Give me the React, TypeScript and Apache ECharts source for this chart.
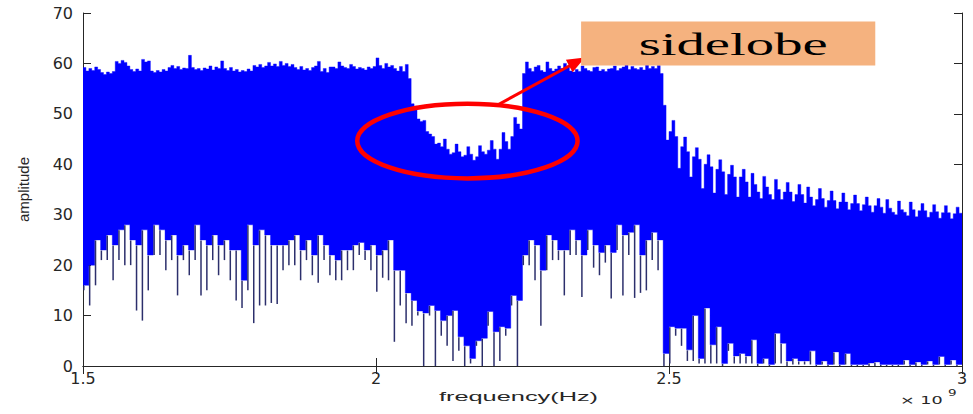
import { useEffect, useRef } from "react";
import * as echarts from "echarts";

// Spectrum bins (frequency axis in units of 1e9 Hz)
const F_START = 1.5;
const TOP_STEP = 0.005; // resolution of the peak envelope
const LOW_STEP = 0.01; // resolution of the dense floor / trough spikes

// Peak envelope per bin, split by band
const PASSBAND_A_TOP = [
  59.2, 58.5, 59.0, 58.6, 59.3, 58.8,
  58.2, 57.8, 58.3, 58.0, 58.4,
  60.4, 60.0, 60.6, 60.2, 59.5,
  58.8, 58.4, 58.9, 58.5,
  60.8, 60.3, 60.5,
  58.5, 58.2, 58.6, 58.3, 58.8, 58.5,
  59.2, 59.6, 59.0, 59.4, 58.8, 59.1, 59.0,
  61.6,
  59.2, 58.8, 59.0, 58.6, 59.1,
  58.9, 59.5, 58.7, 59.3, 59.0,
  60.5,
  59.0, 58.6, 59.2,
  58.5, 58.8, 58.3, 58.6, 58.4, 58.9, 58.5,
  59.6, 59.3, 59.8, 59.2, 59.5,
  60.2, 59.5, 59.9, 59.4, 60.4, 59.6, 60.0, 59.4, 59.8,
  59.2, 58.8, 59.4, 58.7, 59.0, 58.6, 59.2,
  59.5, 60.4, 58.4, 59.0, 58.2, 59.3,
  59.3, 59.0, 60.3, 59.5, 59.2,
  59.0, 59.8, 59.4, 58.9, 59.2,
  59.0, 58.7, 59.3, 59.0, 59.4,
  61.1,
  59.6, 59.0, 60.0, 59.3, 59.6,
  59.0, 58.5, 59.4, 58.4, 59.8, 57.0,
];
const NOTCH_TOP = [
  52, 51.5, 49, 48.5, 48.7, 46.5, 46, 45.5, 44, 44.2,
  43.5, 45, 43, 42, 42.3, 44, 42.5, 41.5, 41.8, 43.5,
  42, 40.8, 41.5, 43.7, 42.5, 42, 42.8, 44.7, 43, 41,
  43, 46.3, 44.5, 43, 45.5, 49.3, 48, 47,
];
const PASSBAND_B_TOP = [
  58.0, 60.3, 59.0, 58.4, 59.3, 59.6, 58.6, 58.3, 60.3, 59.0,
  58.5, 58.9, 59.5, 59.0, 60.0, 59.4, 58.5, 58.3, 58.8, 58.4,
  59.5, 59.0, 58.6, 58.4, 59.2, 59.3, 58.5, 58.8, 58.4, 58.9,
  59.0, 59.5, 58.6, 59.0, 59.3, 59.8, 58.8, 59.4, 59.0, 58.8,
  59.2, 58.7, 60.2, 59.0, 59.4, 59.0, 59.6, 58.0,
];
const ROLLOFF_TOP = [
  51.7, 44.8, 46.5, 48.7, 45.5, 39.2, 43.5, 45.4, 42.5, 37.5,
  41.5, 43.3, 41, 35.2, 40, 41.9, 39.5, 34.3, 39, 40.9,
  38.5, 34, 38, 39.8, 37.5, 33.5, 37.5, 39.0, 36.5, 33.5,
  38.2, 36, 34.5, 33.2, 37.6, 35.5, 34, 33, 37.0, 35,
  33, 34.5, 36.4, 34.5, 32.6, 34, 36.0, 34, 32.3, 35.5,
  33.5, 31.8, 33, 35.2, 33.2, 31.5, 32.8, 34.7, 32.8, 31.2,
  32.5, 34.3, 32.5, 31, 32.2, 33.9, 32.2, 30.8, 32, 33.5,
  31.8, 30.5, 31.8, 33.2, 31.5, 30.3, 33.0, 31.3, 30.5, 30,
  32.7, 31, 30.5, 29.8, 32.5, 31, 29.6, 30.8, 32.2, 30.8,
  29.5, 30.5, 32.0, 30.6, 29.3, 30.4, 31.8, 30.4, 29.2, 30.2,
  31.5, 30.3,
];
const PEAK_ENVELOPE = [...PASSBAND_A_TOP, ...NOTCH_TOP, ...PASSBAND_B_TOP, ...ROLLOFF_TOP];

// Lower edge of the dense trace, per 0.01 bin
const DENSE_FLOOR = [
  16, 20, 25, 23, 26, 24, 27, 28, 25, 24,
  27, 22, 28, 27, 25, 26, 22, 24, 23, 28,
  25, 24, 26, 24, 25, 23, 23, 17, 28, 24,
  27, 26, 24, 24, 24, 25, 26, 23, 25, 22,
  26, 24, 22, 21, 23, 23, 24, 24.5, 23, 24,
  22, 23, 25, 19, 19, 14.5, 13, 10.9, 10.5, 12,
  11, 9, 10, 11, 5.8, 4, 1.5, 5, 5.5, 10.8,
  6.8, 7.8, 7.5, 14, 13, 22, 25, 24, 19, 26,
  25, 23, 23, 27, 25, 22, 27, 24, 22.5, 24,
  22.5, 28, 26, 26.5, 28, 22, 25, 26.5, 25, 2.5,
  7.8, 7.5, 7.5, 3.2, 10, 1.5, 11.5, 4.2, 7.8, 0.5,
  4.5, 2, 2.5, 2, 5.2, 0.5, 1.5, 0.3, 6.5, 4.5,
  1, 1.5, 1, 1, 3, 0.3, 1, 0.3, 2.8, 0.3,
  2.5, 0.3, 0.3, 0.3, 0.6, 0.8, 0.3, 0.3, 0.3, 0.3,
  1.2, 0.3, 0.8, 0.3, 1, 0.3, 1.9, 0.3, 1.2, 0.3,
];
// Deepest trough reached inside each 0.01 bin
const TROUGH_LOW = [
  15, 12, 16, 21, 21, 17, 21, 20, 20, 11,
  9, 15, 22, 22, 19, 21, 14, 21, 18, 21,
  14, 15, 21, 18, 21, 17, 13, 11.5, 15, 8.5,
  12, 12, 12.5, 12.3, 19, 20, 20, 17, 21, 18,
  16.5, 21, 18, 17, 17, 19, 19, 22, 21, 19,
  14.7, 17.5, 17, 4.8, 12, 8.5, 8, 10, 0, 10,
  0, 6, 4, 1, 3, 0, 0.5, 4, 0, 8,
  0, 1, 6, 12, 0, 20, 20, 17, 8, 19,
  21, 21, 14, 22, 22, 13.7, 23, 19.5, 18, 20.5,
  13.4, 23, 14, 22, 13.5, 14.5, 15, 21, 19, 0,
  0.5, 6, 4, 1, 1, 0.5, 0.5, 0.5, 0.5, 0,
  3, 0.5, 0.5, 0.5, 0.5, 0, 0.5, 0, 0.5, 0.5,
  0, 0.3, 0.3, 0.3, 0.3, 0, 0.3, 0, 0.3, 0,
  0.3, 0, 0, 0, 0, 0, 0, 0, 0, 0,
  0.3, 0, 0, 0, 0.3, 0, 0.3, 0, 0.3, 0,
];

const X_TICKS = [1.5, 2, 2.5, 3];
const Y_TICKS = [0, 10, 20, 30, 40, 50, 60, 70];

// Annotation anchors in data units
const HIGHLIGHT = { f: 2.156, a: 44.6, rf: 0.188, ra: 7.4 };
const ARROW_FROM = [2.2065, 51.7];
const ARROW_TO = [2.3567, 61.2];
const LABEL_BOX = { f0: 2.35, a0: 68.3, f1: 2.852, a1: 59.6 };
const LABEL_TEXT = "sidelobe";

const BLUE = "#0000ff";
const NAVY = "#2c2f6c";
const INK = "#262626";
const RED = "#ff0000";

export default function App() {
  const ref = useRef<HTMLDivElement>(null);

  useEffect(() => {
    if (!ref.current) return;
    const chart = echarts.init(ref.current, undefined, { renderer: "svg" });

    const envelopeData = PEAK_ENVELOPE.map((top, i) => [F_START + i * TOP_STEP, top]);
    const floorData = DENSE_FLOOR.map((floor, j) => [F_START + j * LOW_STEP, floor]);
    const troughData = TROUGH_LOW.map((low, j) => [F_START + j * LOW_STEP, low, DENSE_FLOOR[j]]);

    const axisLine = { show: true, lineStyle: { color: INK, width: 1 } };
    const tick = { show: true, inside: true, length: 8, lineStyle: { color: INK } };
    const labelFont = { fontFamily: "DejaVu Sans", fontSize: 16, color: INK };

    chart.setOption({
      animation: false,
      backgroundColor: "#ffffff",
      grid: { left: 83, right: 11, top: 13, bottom: 48, containLabel: false },
      xAxis: [
        {
          type: "value",
          min: 1.5,
          max: 3,
          interval: 0.5,
          axisLine,
          axisTick: { ...tick, customValues: X_TICKS },
          axisLabel: {
            ...labelFont,
            margin: 4,
            customValues: X_TICKS,
            formatter: (v: number) => String(v),
          },
          splitLine: { show: false },
        },
        {
          type: "value",
          position: "top",
          min: 1.5,
          max: 3,
          interval: 0.5,
          axisLine,
          axisTick: { ...tick, customValues: X_TICKS },
          axisLabel: { show: false },
          splitLine: { show: false },
        },
      ],
      yAxis: [
        {
          type: "value",
          min: 0,
          max: 70,
          interval: 10,
          name: "amplitude",
          nameLocation: "middle",
          nameRotate: 90,
          nameGap: 52,
          nameTextStyle: { fontFamily: "Liberation Sans", fontSize: 15, color: INK },
          axisLine,
          axisTick: { ...tick, customValues: Y_TICKS },
          axisLabel: { ...labelFont, margin: 10, customValues: Y_TICKS },
          splitLine: { show: false },
        },
        {
          type: "value",
          position: "right",
          min: 0,
          max: 70,
          interval: 10,
          axisLine,
          axisTick: { ...tick, customValues: Y_TICKS },
          axisLabel: { show: false },
          splitLine: { show: false },
        },
      ],
      series: [
        {
          // The dense trace is filled as one stepped band: peak envelope on top,
          // dense floor underneath.
          type: "custom",
          name: "dense trace",
          clip: true,
          silent: true,
          encode: { x: 0, y: 1 },
          data: envelopeData,
          renderItem: (params: any, api: any) => {
            if (params.dataIndex !== 0) return null;
            const pts: number[][] = [];
            envelopeData.forEach(([f, top]) => {
              pts.push(api.coord([f, top]), api.coord([f + TOP_STEP, top]));
            });
            for (let j = floorData.length - 1; j >= 0; j--) {
              const [f, floor] = floorData[j];
              pts.push(api.coord([f + LOW_STEP, floor]), api.coord([f, floor]));
            }
            return {
              type: "polygon",
              shape: { points: pts },
              style: { fill: BLUE, stroke: BLUE, lineWidth: 0.4 },
            };
          },
        },
        {
          type: "custom",
          name: "troughs",
          clip: true,
          silent: true,
          encode: { x: 0, y: 1 },
          data: troughData,
          renderItem: (_p: any, api: any) => {
            const f = api.value(0);
            const low = api.value(1);
            const floor = api.value(2);
            if (low >= floor) return null;
            const a = api.coord([f, low]);
            const b = api.coord([f, floor]);
            return {
              type: "line",
              shape: { x1: a[0] + 0.8, y1: a[1], x2: b[0] + 0.8, y2: b[1] + 0.5 },
              style: { stroke: NAVY, lineWidth: 1.5 },
            };
          },
        },
      ],
    });

    const px = (f: number, a: number) =>
      chart.convertToPixel({ xAxisIndex: 0, yAxisIndex: 0 }, [f, a]) as number[];

    const c = px(HIGHLIGHT.f, HIGHLIGHT.a);
    const rx = px(HIGHLIGHT.f + HIGHLIGHT.rf, HIGHLIGHT.a)[0] - c[0];
    const ry = c[1] - px(HIGHLIGHT.f, HIGHLIGHT.a + HIGHLIGHT.ra)[1];

    const s = px(ARROW_FROM[0], ARROW_FROM[1]);
    const t = px(ARROW_TO[0], ARROW_TO[1]);
    const dx = t[0] - s[0];
    const dy = t[1] - s[1];
    const len = Math.hypot(dx, dy);
    const ux = dx / len;
    const uy = dy / len;
    const headLen = 18;
    const headHalf = 7;
    const bx = t[0] - ux * headLen;
    const by = t[1] - uy * headLen;

    const b0 = px(LABEL_BOX.f0, LABEL_BOX.a0);
    const b1 = px(LABEL_BOX.f1, LABEL_BOX.a1);

    const plotLeft = px(1.5, 0);
    const plotRight = px(3, 0);

    chart.setOption({
      graphic: [
        {
          type: "ellipse",
          z: 100,
          silent: true,
          shape: { cx: c[0], cy: c[1], rx, ry },
          style: { fill: "none", stroke: RED, lineWidth: 4.5 },
        },
        {
          type: "line",
          z: 100,
          silent: true,
          shape: { x1: s[0], y1: s[1], x2: bx + ux * 2, y2: by + uy * 2 },
          style: { stroke: RED, lineWidth: 3 },
        },
        {
          type: "polygon",
          z: 100,
          silent: true,
          shape: {
            points: [
              [t[0], t[1]],
              [bx - uy * headHalf, by + ux * headHalf],
              [bx + uy * headHalf, by - ux * headHalf],
            ],
          },
          style: { fill: RED },
        },
        {
          type: "rect",
          z: 100,
          silent: true,
          shape: { x: b0[0], y: b0[1], width: b1[0] - b0[0], height: b1[1] - b0[1] },
          style: { fill: "#f5b27f" },
        },
        {
          type: "text",
          z: 101,
          silent: true,
          x: (b0[0] + b1[0]) / 2 + 5,
          y: (b0[1] + b1[1]) / 2 + 1,
          scaleX: 1.83,
          style: {
            text: LABEL_TEXT,
            fontFamily: "Liberation Serif",
            fontSize: 31,
            fill: "#000000",
            align: "center",
            verticalAlign: "middle",
          },
        },
        {
          type: "text",
          z: 101,
          silent: true,
          x: (plotLeft[0] + plotRight[0]) / 2 - 4,
          y: 396,
          scaleX: 1.95,
          style: {
            text: "frequency(Hz)",
            fontFamily: "Liberation Sans",
            fontSize: 13,
            fill: INK,
            align: "center",
            verticalAlign: "middle",
          },
        },
        {
          type: "text",
          z: 101,
          silent: true,
          x: 900,
          y: 400,
          scaleX: 1.6,
          style: {
            text: "× 10",
            fontFamily: "DejaVu Sans",
            fontSize: 11,
            fill: INK,
            align: "left",
            verticalAlign: "middle",
          },
        },
        {
          type: "text",
          z: 101,
          silent: true,
          x: 948,
          y: 393,
          scaleX: 1.5,
          style: {
            text: "9",
            fontFamily: "DejaVu Sans",
            fontSize: 9,
            fill: INK,
            align: "left",
            verticalAlign: "middle",
          },
        },
      ],
    });

    return () => chart.dispose();
  }, []);

  return (
    <div
      ref={ref}
      style={{ position: "absolute", left: 0, top: 0, width: 973, height: 414, background: "#fff" }}
    />
  );
}
